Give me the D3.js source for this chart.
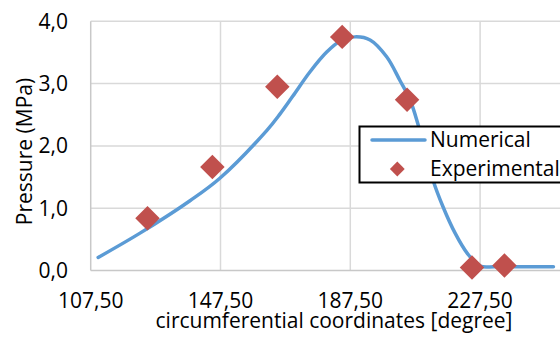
<!doctype html>
<html>
<head>
<script src="https://d3js.org/d3.v7.min.js"></script>
<style>
  body { margin: 0; background: #fff; }
  text { font-family: "Open Sans", sans-serif; fill: #000; }
</style>
</head>
<body>
<svg width="560" height="338"></svg>
<script>
// numerical curve
var numDeg = [109.8, 122.7, 138.1, 147.3, 161.8, 165.8, 169.8, 175.1, 180.3, 184.3, 188.9, 193.6, 198.7, 202.8, 205.9, 208.4, 213.0, 216.1, 219.8, 223.5, 227.5, 232.0, 240.0, 250.1];
var numP   = [0.21, 0.60, 1.12, 1.48, 2.25, 2.51, 2.80, 3.19, 3.51, 3.68, 3.75, 3.70, 3.43, 3.05, 2.74, 2.34, 1.45, 1.02, 0.60, 0.28, 0.07, 0.06, 0.06, 0.06];

// experimental points
var expDeg = [125, 145, 165, 185, 205, 225, 235];
var expP   = [0.84, 1.66, 2.95, 3.75, 2.74, 0.05, 0.08];

var xTicks = [107.5, 147.5, 187.5, 227.5];
var yTicks = [0, 1, 2, 3, 4];

var svg = d3.select("svg");

// axis runs to 267.5, which falls past the right edge of the picture
var x = d3.scaleLinear().domain([107.5, 267.5]).range([90.7, 609.9]);
var y = d3.scaleLinear().domain([0, 4]).range([270.5, 21.3]);

var fmt = d3.format(".1f"), fmt2 = d3.format(".2f");
var comma = function(s) { return s.replace(".", ","); };

// grid
svg.append("g").selectAll("line").data(yTicks.slice(1)).enter().append("line")
    .attr("x1", x(107.5)).attr("x2", 560)
    .attr("y1", d => y(d)).attr("y2", d => y(d))
    .attr("stroke", "#d9d9d9").attr("stroke-width", 1.5);
svg.append("g").selectAll("line").data(xTicks.slice(1)).enter().append("line")
    .attr("x1", d => x(d)).attr("x2", d => x(d))
    .attr("y1", y(4)).attr("y2", y(0))
    .attr("stroke", "#d9d9d9").attr("stroke-width", 1.5);

// axis lines
svg.append("line").attr("x1", x(107.5)).attr("x2", 560).attr("y1", y(0)).attr("y2", y(0))
    .attr("stroke", "#c8c8c8").attr("stroke-width", 1.5);
svg.append("line").attr("x1", x(107.5)).attr("x2", x(107.5)).attr("y1", y(4)).attr("y2", y(0))
    .attr("stroke", "#c8c8c8").attr("stroke-width", 1.5);

// tick labels
svg.append("g").selectAll("text").data(yTicks).enter().append("text")
    .attr("x", 68).attr("y", d => y(d)).attr("dy", "0.36em")
    .attr("text-anchor", "end").style("font-size", "21px")
    .text(d => comma(fmt(d)));
svg.append("g").selectAll("text").data(xTicks).enter().append("text")
    .attr("x", d => x(d)).attr("y", 308)
    .attr("text-anchor", "middle").style("font-size", "21px")
    .text(d => comma(fmt2(d)));

// axis titles
svg.append("text")
    .attr("x", 334).attr("y", 328)
    .attr("text-anchor", "middle").style("font-size", "21px")
    .text("circumferential coordinates [degree]");
svg.append("text")
    .attr("transform", "translate(32,151.5)rotate(-90)")
    .attr("text-anchor", "middle").style("font-size", "21px")
    .text("Pressure (MPa)");

// numerical line
var line = d3.line()
    .x((d, i) => x(numDeg[i]))
    .y(d => y(d))
    .curve(d3.curveCatmullRom.alpha(0.5));
svg.append("path").datum(numP)
    .attr("d", line)
    .attr("fill", "none")
    .attr("stroke", "#5b9bd5")
    .attr("stroke-width", 3.5)
    .attr("stroke-linecap", "round");

// experimental diamonds
var diamond = d3.symbol().type(d3.symbolSquare).size(300);
svg.append("g").selectAll("path").data(expP).enter().append("path")
    .attr("d", diamond)
    .attr("transform", (d, i) => "translate(" + x(expDeg[i]) + "," + y(d) + ")rotate(45)")
    .attr("fill", "#c0504d");

// legend
var lg = svg.append("g");
lg.append("rect")
    .attr("x", 359.5).attr("y", 126.5).attr("width", 220).attr("height", 56)
    .attr("fill", "#fff").attr("stroke", "#000").attr("stroke-width", 2);
lg.append("line")
    .attr("x1", 372).attr("x2", 425).attr("y1", 140).attr("y2", 140)
    .attr("stroke", "#5b9bd5").attr("stroke-width", 3.5).attr("stroke-linecap", "round");
lg.append("path")
    .attr("d", d3.symbol().type(d3.symbolSquare).size(110))
    .attr("transform", "translate(397.3,169)rotate(45)")
    .attr("fill", "#c0504d");
lg.append("text").attr("x", 430).attr("y", 147).style("font-size", "21px").text("Numerical");
lg.append("text").attr("x", 430).attr("y", 176).style("font-size", "21px").text("Experimental");
</script>
</body>
</html>
